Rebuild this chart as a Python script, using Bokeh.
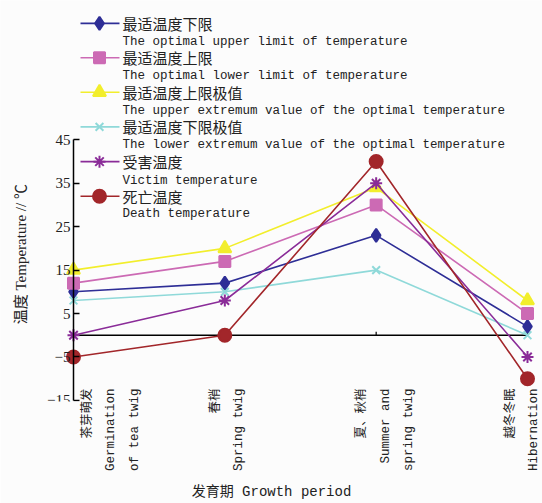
import math
from bokeh.plotting import figure
from bokeh.models import Range1d, FixedTicker, Label
from bokeh.core.properties import value
from bokeh.embed import file_html
from bokeh.resources import INLINE

# ---------------- data ----------------
cat_pos = [0, 1, 2, 3]
cat_labels = ["茶芽萌发\nGermination\nof tea twig",
              "春梢\nSpring twig",
              "夏、秋梢\nSummer and\nspring twig",
              "越冬冬眠\nHibernation"]

opt_low = [10, 12, 23, 2]        # 最适温度下限
opt_up = [12, 17, 30, 5]         # 最适温度上限
opt_up_ext = [15, 20, 34, 8]     # 最适温度上限极值
opt_low_ext = [8, 10, 15, 0]     # 最适温度下限极值
victim = [0, 8, 35, -5]          # 受害温度
death = [-5, 0, 40, -10]         # 死亡温度

names_cn = ["最适温度下限", "最适温度上限", "最适温度上限极值",
            "最适温度下限极值", "受害温度", "死亡温度"]
names_en = ["The optimal upper limit of temperature",
            "The optimal lower limit of temperature",
            "The upper extremum value of the optimal temperature",
            "The lower extremum value of the optimal temperature",
            "Victim temperature",
            "Death temperature"]
y_ticks = [-15, -5, 5, 15, 25, 35, 45]

series = [opt_low, opt_up, opt_up_ext, opt_low_ext, victim, death]
colors = ["#2E2E96", "#CC6AB4", "#F2EE2C", "#8FD9D9", "#8A2C98", "#A2262A"]
markers = ["diamond", "square", "triangle", "x", "asterisk", "circle"]
msizes = [13, 11, 13, 11, 12, 13]

# ---------------- layout (page px) ----------------
W, H = 542, 503
AX = 73          # y-axis position
XR = 527         # last category
Y45, YM15 = 140, 402
sx = (XR - AX) / 3.0
x0 = -AX / sx
x1 = 3 + (W - XR) / sx
sy = (YM15 - Y45) / 60.0
PAD = 0.25
y0 = -15 - PAD
y1 = 45 + Y45 / sy
FB = round(YM15 + PAD * sy)
BOTTOM = H - FB

def px2x(px):
    return (px - AX) / sx

def px2y(py):
    return 45 - (py - Y45) / sy

# where the category label blocks sit (page px centres)
label_px = [111, 227, 385, 522]
label_at = [round(px2x(v), 4) for v in label_px]

p = figure(width=W, height=H, output_backend="svg", toolbar_location=None,
           x_range=Range1d(x0, x1), y_range=Range1d(y0, y1),
           min_border_left=0, min_border_right=0, min_border_top=0, min_border_bottom=BOTTOM)
p.outline_line_color = None
p.background_fill_color = "#FCFCFC"
p.border_fill_color = "#FCFCFC"
p.grid.visible = False

# y axis at x = first category
ya = p.yaxis[0]
ya.fixed_location = 0
ya.bounds = (-15, 45)
ya.ticker = FixedTicker(ticks=y_ticks)
ya.minor_tick_line_color = None
ya.major_tick_in = 6
ya.major_tick_out = 0
ya.axis_line_width = 1.5
ya.major_tick_line_width = 1.5
ya.major_label_text_font = "Liberation Serif"
ya.major_label_text_font_size = "15px"
ya.major_label_text_color = "#222222"
ya.major_label_standoff = 3

# x axis: labels only at bottom
xa = p.xaxis[0]
xa.ticker = FixedTicker(ticks=label_at)
xa.major_label_overrides = {t: l for t, l in zip(label_at, cat_labels)}
xa.major_label_orientation = math.pi / 2
xa.axis_line_color = None
xa.major_tick_line_color = None
xa.minor_tick_line_color = None
xa.major_tick_out = 0
xa.major_tick_in = 0
xa.major_label_text_font = "Liberation Mono, Noto Sans CJK SC"
xa.major_label_text_font_size = "12.5px"
xa.major_label_text_line_height = 1.65
xa.major_label_text_color = "#222222"
xa.major_label_standoff = -13
xa.axis_label = "发育期 Growth period"
xa.axis_label_text_font = "Liberation Mono, Noto Sans CJK SC"
xa.axis_label_text_font_size = "14px"
xa.axis_label_text_font_style = "normal"
xa.axis_label_text_color = "#222222"
xa.axis_label_standoff = 10

# zero line with small ticks
p.segment(x0=[cat_pos[0]], y0=[0], x1=[cat_pos[-1]], y1=[0], line_color="black", line_width=1.5)
p.segment(x0=cat_pos[1:], y0=[0] * 3, x1=cat_pos[1:], y1=[0.8] * 3, line_color="black", line_width=1.2)

# series
for ys, c, m, s in zip(series, colors, markers, msizes):
    p.line(cat_pos, ys, line_color=c, line_width=1.6)
    p.scatter(cat_pos, ys, marker=m, size=s, fill_color=c, line_color=c, line_width=2)

# legend (manual)
leg_cn_y = [23, 57.5, 92.3, 127, 162, 196.7]
leg_en_y = [41.7, 76, 110.7, 145.7, 181, 215]
for i, c in enumerate(colors):
    yy = px2y(leg_cn_y[i])
    p.line([px2x(80), px2x(119)], [yy, yy], line_color=c, line_width=1.6)
    p.scatter([px2x(99)], [yy], marker=markers[i], size=msizes[i], fill_color=c, line_color=c, line_width=2)
p.text(x=[px2x(122)] * 6, y=[px2y(v) for v in leg_cn_y], text=names_cn,
       text_font=value("Noto Sans CJK SC"), text_font_size="15px",
       text_baseline="middle", text_align="left", text_color="#222222")
p.text(x=[px2x(122)] * 6, y=[px2y(v) for v in leg_en_y], text=names_en,
       text_font=value("Liberation Mono"), text_font_size="12.5px",
       text_baseline="middle", text_align="left", text_color="#222222")

# y axis title
p.add_layout(Label(x=px2x(20), y=px2y(255), text="温度 Temperature // ℃", angle=math.pi / 2,
                   text_align="center", text_baseline="middle",
                   text_font="Liberation Serif, Noto Sans CJK SC", text_font_size="15px",
                   text_color="#222222"))

open("out.html", "w").write(file_html(p, INLINE))
